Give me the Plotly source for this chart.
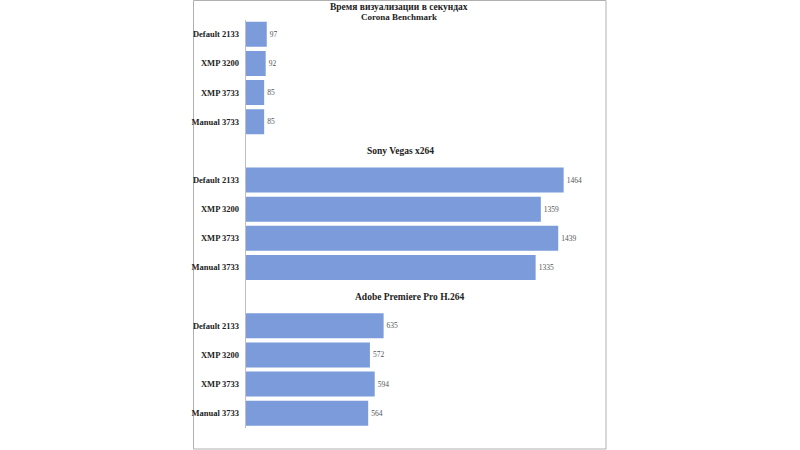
import plotly.graph_objects as go

categories = ["Default 2133", "XMP 3200", "XMP 3733", "Manual 3733"]
groups = ["Corona Benchmark", "Sony Vegas x264", "Adobe Premiere Pro H.264"]
corona = [97, 92, 85, 85]
vegas = [1464, 1359, 1439, 1335]
premiere = [635, 572, 594, 564]
main_title = "Время визуализации в секундах"

series = [corona, vegas, premiere]
W, H = 800, 450
step = len(categories) + 1

ys, xs, texts, tickvals, ticktext = [], [], [], [], []
for g, vals in enumerate(series):
    for i, v in enumerate(vals):
        pos = g * step + i
        ys.append(pos)
        xs.append(v)
        texts.append(str(v))
        tickvals.append(pos)
        ticktext.append(categories[i])

fig = go.Figure(go.Bar(
    x=xs, y=ys, orientation="h", text=texts, textposition="outside",
    cliponaxis=False,
    textfont=dict(family="Liberation Serif", size=7.5, color="#555555"),
    marker=dict(color="#7b9bda", line=dict(width=0)),
    hoverinfo="skip",
))

top_px, bot_px = 19.7, 427.8
left_px, right_px = 245.7, 606
fig.update_layout(
    width=W, height=H, margin=dict(l=0, r=0, t=0, b=0),
    paper_bgcolor="white", plot_bgcolor="white", showlegend=False,
    bargap=0.14,
    xaxis=dict(domain=[left_px / W, right_px / W], range=[0, 1659],
               showgrid=False, zeroline=False, showticklabels=False, showline=False),
    yaxis=dict(domain=[1 - bot_px / H, 1 - top_px / H],
               range=[len(series) * step - 1 - 0.5, -0.5],
               tickvals=tickvals, ticktext=ticktext, ticks="",
               ticklabelstandoff=4,
               tickfont=dict(family="Liberation Serif", size=8.5, color="#222222", weight="bold"),
               showgrid=False, zeroline=False, showline=True, linecolor="#bfbfbf", linewidth=1),
    font=dict(family="Liberation Serif"),
)

title_font = dict(family="Liberation Serif", size=9.5, color="#222222", weight="bold")
title_x = [399, 400, 410]
# main title (two tight lines)
fig.add_annotation(x=title_x[0] / W, xref="paper", y=1 - 7 / H, yref="paper",
                   text=main_title, showarrow=False, xanchor="center", yanchor="middle",
                   borderpad=0,
                   font=dict(family="Liberation Serif", size=9.5, color="#222222", weight="bold"))
fig.add_annotation(x=title_x[0] / W, xref="paper", y=1 - 17.5 / H, yref="paper",
                   text=groups[0], showarrow=False, xanchor="center", yanchor="middle",
                   borderpad=0,
                   font=dict(family="Liberation Serif", size=9, color="#222222", weight="bold"))
# section titles in empty category slots
for g, name in enumerate(groups):
    if g == 0:
        continue
    fig.add_annotation(x=title_x[g] / W, xref="paper", y=g * step - 1, yref="y", text=name,
                       showarrow=False, xanchor="center", yanchor="middle",
                       font=title_font)

# outer chart border
fig.add_shape(type="rect", xref="paper", yref="paper",
              x0=193.5 / W, x1=606 / W, y0=1 - 449 / H, y1=1 - 0.5 / H,
              line=dict(color="#b0b0b0", width=1), fillcolor="rgba(0,0,0,0)", layer="below")

fig.write_html("out.html", config={"displayModeBar": False},
               post_script="document.body.style.margin='0';document.body.style.overflow='hidden';")
